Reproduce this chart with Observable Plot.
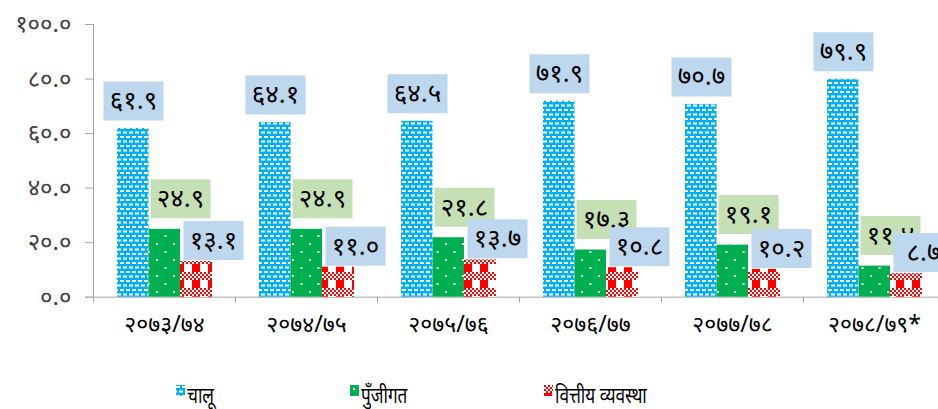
<!DOCTYPE html>
<html><head><meta charset="utf-8">
<script src="https://cdn.jsdelivr.net/npm/d3@7"></script>
<script src="https://cdn.jsdelivr.net/npm/@observablehq/plot@0.6"></script>
<style>
body{margin:0;background:#fff;}
#wrap{position:relative;width:938px;height:409px;overflow:hidden;font-family:"Noto Sans","Noto Sans Devanagari",sans-serif;}
#wrap svg{overflow:visible;}
.leg{position:absolute;top:381px;display:flex;align-items:flex-start;font-size:22px;color:#000;line-height:26px;}
.leg svg{margin-top:4px;margin-right:2px;}
.leg span{display:inline-block;transform:scaleX(0.78);transform-origin:left center;}
</style></head><body><div id="wrap"></div>
<script>
// ---- data ----
const years = ["२०७३/७४", "२०७४/७५", "२०७५/७६", "२०७६/७७", "२०७७/७८", "२०७८/७९*"];
const chalu = [61.9, 64.1, 64.5, 71.9, 70.7, 79.9];
const punjigat = [24.9, 24.9, 21.8, 17.3, 19.1, 11.4];
const bittiya = [13.1, 11.0, 13.7, 10.8, 10.2, 8.7];
const seriesNames = ["चालू", "पुँजीगत", "वित्तीय व्यवस्था"];
const yTicks = [0, 20, 40, 60, 80, 100];

// ---- helpers ----
const devDigits = "०१२३४५६७८९";
const toDev = s => String(s).replace(/\d/g, d => devDigits[+d]);
const fmt = v => toDev(v.toFixed(1));

const seriesValues = [chalu, punjigat, bittiya];
const styles = [
  {fill: "url(#pBlue)", inL: 24, inR: 86.5, bg: "#BDD7EE", dx: -31, dy: -27.5},
  {fill: "url(#pGreen)", inL: 55.5, inR: 55, bg: "#C5E0B4", dx: 16, dy: -30.5},
  {fill: "url(#pRed)", inL: 87, inR: 23, bg: "#BDD7EE", dx: 49, dy: -21}
];
const rows = seriesNames.map((name, s) => years.map((y, i) => ({year: y, series: name, value: seriesValues[s][i]})));

const boxSymbol = {draw(ctx) { ctx.rect(-30, -19.5, 60, 39); }};
const fontFam = "'Noto Sans','Noto Sans Devanagari',sans-serif";

const marks = [];
rows.forEach((data, s) => {
  const st = styles[s];
  marks.push(Plot.barY(data, {x: "year", y: "value", fill: st.fill, insetLeft: st.inL, insetRight: st.inR}));
});
rows.forEach((data, s) => {
  const st = styles[s];
  marks.push(Plot.dot(data, {x: "year", y: "value", symbol: boxSymbol, r: 5, fill: st.bg, stroke: null, dx: st.dx, dy: st.dy}));
  marks.push(Plot.text(data, {x: "year", y: "value", text: d => fmt(d.value), dx: st.dx, dy: st.dy, fontSize: 26, fill: "#000", fontFamily: fontFam}));
});

const chart = Plot.plot({
  width: 938, height: 345,
  marginLeft: 93, marginRight: -7, marginTop: 24, marginBottom: 48.3,
  style: {fontFamily: fontFam, background: "transparent"},
  x: {domain: years, padding: 0, axis: null},
  y: {domain: [0, 100], axis: null},
  marks: [
    Plot.frame({anchor: "left", stroke: "#A6A6A6"}),
    Plot.ruleY([0], {stroke: "#A6A6A6", insetLeft: -8}),
    Plot.ruleX(years, {x: d => d, y1: 0, y2: 0, dx: -71, insetBottom: -6, stroke: "#A6A6A6"}),
    Plot.axisY(yTicks, {tickSize: 8, tickPadding: 14, tickFormat: fmt, fontSize: 24, stroke: "#A6A6A6", fill: "#404040", label: null}),
    Plot.axisX({tickSize: 0, tickPadding: 18, fontSize: 23, fill: "#000", label: null}),
    ...marks
  ]
});

// patterns
const ns = "http://www.w3.org/2000/svg";
const defs = document.createElementNS(ns, "defs");
defs.innerHTML = `
<pattern id="pBlue" patternUnits="userSpaceOnUse" width="6" height="9">
  <rect width="6" height="9" fill="#00B0F0"/>
  <rect x="0" y="1" width="4" height="2" fill="#fff"/>
  <rect x="3" y="5.5" width="4" height="2" fill="#fff"/>
  <rect x="-3" y="5.5" width="4" height="2" fill="#fff"/>
</pattern>
<pattern id="pGreen" patternUnits="userSpaceOnUse" width="17" height="16">
  <rect width="17" height="16" fill="#00B050"/>
  <rect x="3" y="3" width="2" height="2" fill="#fff"/>
  <rect x="11.5" y="11" width="2" height="2" fill="#fff"/>
</pattern>
<pattern id="pRed" patternUnits="userSpaceOnUse" width="16" height="16">
  <rect width="16" height="16" fill="#fff"/>
  ${[0,2,4,6].map(r => [0,2,4,6,8,10,12,14].map(c => ((r + c) / 2) % 2 === 0 ? `<rect x="${c}" y="${r}" width="2" height="2" fill="#FF0000"/>` : "").join("")).join("")}
  <rect x="0" y="8" width="8" height="8" fill="#FF0000"/>
</pattern>`;
const svgEl = chart.tagName.toLowerCase() === "svg" ? chart : chart.querySelector("svg");
svgEl.insertBefore(defs, svgEl.firstChild);

const wrap = document.getElementById("wrap");
wrap.appendChild(chart);

// legend
const legX = [176, 350, 544];
const legFill = ["url(#pBlue)", "url(#pGreen)", "url(#pRed)"];
seriesNames.forEach((name, i) => {
  const d = document.createElement("div");
  d.className = "leg";
  d.style.left = legX[i] + "px";
  d.innerHTML = `<svg width="9" height="11"><rect width="9" height="11" fill="${legFill[i]}"/></svg><span>${name}</span>`;
  wrap.appendChild(d);
});
</script>
</body></html>
